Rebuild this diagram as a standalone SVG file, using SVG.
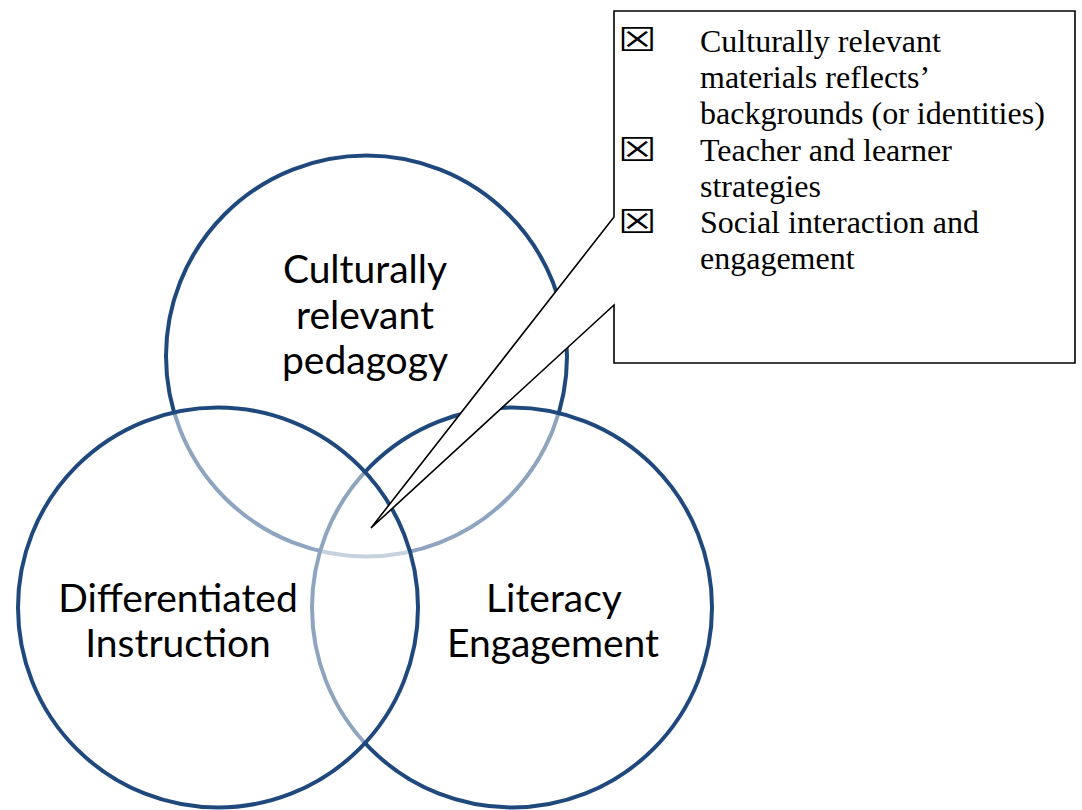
<svg xmlns="http://www.w3.org/2000/svg" width="1082" height="810" viewBox="0 0 1082 810">
<style>
.ring{fill:#ffffff;fill-opacity:0.5;stroke:#1f497d;stroke-width:4}
.lbl{font-family:Lato,"Liberation Sans",sans-serif;font-size:39px;fill:#000000;text-anchor:middle}
.note{font-family:"Liberation Serif","Times New Roman",serif;font-size:32px;fill:#000000}
.chk{font-family:"DejaVu Sans",sans-serif;font-size:33px;fill:#000000}
.callout{fill:#ffffff;stroke:#000000;stroke-width:1.6;stroke-linejoin:miter}
</style>
<rect x="0" y="0" width="1082" height="810" fill="#ffffff"/>
<g id="node-culturally-relevant-pedagogy">
<circle class="ring" cx="366.5" cy="356" r="200.5"/>
<text class="lbl" x="365" y="283">Culturally</text>
<text class="lbl" x="365" y="329">relevant</text>
<text class="lbl" x="365" y="374">pedagogy</text>
</g>
<g id="node-literacy-engagement">
<circle class="ring" cx="512" cy="607.5" r="200"/>
<text class="lbl" x="554" y="612">Literacy</text>
<text class="lbl" x="553" y="657">Engagement</text>
</g>
<g id="node-differentiated-instruction">
<circle class="ring" cx="218" cy="607.5" r="200"/>
<text class="lbl" x="178" y="612">Differentiated</text>
<text class="lbl" x="178" y="657">Instruction</text>
</g>
<g id="connectors"></g>
<g id="node-callout">
<polygon class="callout" points="614,11 1075,11 1075,363 614,363 614,305 371,528 614,217"/>
<text class="chk" transform="translate(618,51) scale(1.3,1)">☒</text>
<text class="chk" transform="translate(618,160.5) scale(1.3,1)">☒</text>
<text class="chk" transform="translate(618,233) scale(1.3,1)">☒</text>
<text class="note" x="700" y="52">Culturally relevant</text>
<text class="note" x="700" y="88.2">materials reflects’</text>
<text class="note" x="700" y="124.4">backgrounds (or identities)</text>
<text class="note" x="700" y="160.6">Teacher and learner</text>
<text class="note" x="700" y="196.8">strategies</text>
<text class="note" x="700" y="233">Social interaction and</text>
<text class="note" x="700" y="269.2">engagement</text>
</g>
</svg>
